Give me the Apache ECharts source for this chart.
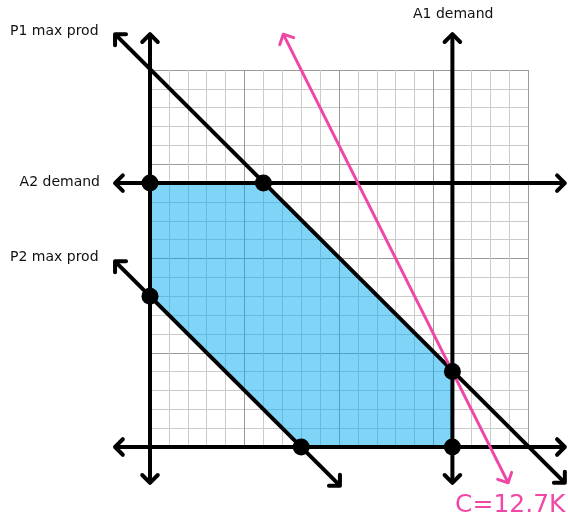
<!DOCTYPE html>
<html>
<head>
<meta charset="utf-8">
<script src="https://cdn.jsdelivr.net/npm/echarts@6/dist/echarts.min.js"></script>
<style>
  html, body { margin: 0; padding: 0; background: #fff; }
  #chart { width: 568px; height: 520px; }
</style>
</head>
<body>
<div id="chart"></div>
<script>
// constraint lines, [u1, v1, u2, v2] in grid units
var yAxisLine = [0, 21.9, 0, -1.9];
var xAxisLine = [-1.85, 0, 21.95, 0];
var p1Line = [-1.85, 21.9, 21.95, -1.9];
var p2Line = [-1.85, 9.85, 10.05, -2.05];
var a2Line = [-1.85, 14, 21.95, 14];
var a1Line = [16, 21.9, 16, -1.9];
var costLine = [7.05, 21.9, 18.95, -1.9];

// feasible region corners
var region = [[0, 14], [6, 14], [16, 4], [16, 0], [8, 0], [0, 8]];
// corner points
var corners = [[0, 14], [6, 14], [0, 8], [8, 0], [16, 0], [16, 4]];

var lineLabels = ['P1 max prod', 'A2 demand', 'P2 max prod', 'A1 demand'];
var costLabel = 'C=12.7K';

var chart = echarts.init(document.getElementById('chart'));

var drawArrowLine = function(params, api) {
    var a = api.coord([api.value(0), api.value(1)]);
    var b = api.coord([api.value(2), api.value(3)]);
    var color = api.value(4) === 1 ? '#f046a6' : '#000';
    var width = api.value(4) === 1 ? 3 : 4;
    var len = 11;
    var chevron = function(tip, from) {
        var dx = tip[0] - from[0], dy = tip[1] - from[1];
        var d = Math.sqrt(dx * dx + dy * dy);
        dx /= d; dy /= d;
        var c = Math.SQRT1_2;
        var l1 = [tip[0] - len * (dx * c - dy * c), tip[1] - len * (dy * c + dx * c)];
        var l2 = [tip[0] - len * (dx * c + dy * c), tip[1] - len * (dy * c - dx * c)];
        return {
            type: 'polyline',
            shape: { points: [l1, tip, l2] },
            style: { stroke: color, lineWidth: width, fill: null, lineCap: 'round', lineJoin: 'round' }
        };
    };
    return {
        type: 'group',
        children: [
            {
                type: 'line',
                shape: { x1: a[0], y1: a[1], x2: b[0], y2: b[1] },
                style: { stroke: color, lineWidth: width }
            },
            chevron(a, b),
            chevron(b, a)
        ]
    };
};

var lineData = [
    yAxisLine.concat([0]),
    xAxisLine.concat([0]),
    p1Line.concat([0]),
    p2Line.concat([0]),
    a2Line.concat([0]),
    a1Line.concat([0]),
    costLine.concat([1])
];

var gridColors = ['#9a9a9a', '#cbcbcb', '#cbcbcb', '#cbcbcb', '#cbcbcb'];

var option = {
    backgroundColor: '#fff',
    animation: false,
    grid: { left: 150, right: 40, top: 70, bottom: 73 },
    xAxis: {
        type: 'value', min: 0, max: 20, interval: 1,
        axisLine: { show: false }, axisTick: { show: false }, axisLabel: { show: false },
        splitLine: { show: true, showMinLine: true, showMaxLine: true, lineStyle: { color: gridColors, width: 1 } }
    },
    yAxis: {
        type: 'value', min: 0, max: 20, interval: 1,
        axisLine: { show: false }, axisTick: { show: false }, axisLabel: { show: false },
        splitLine: { show: true, showMinLine: true, showMaxLine: true, lineStyle: { color: gridColors, width: 1 } }
    },
    series: [{
        type: 'custom',
        z: 2,
        renderItem: function(params, api) {
            var pts = region.map(function(p) { return api.coord(p); });
            return {
                type: 'polygon',
                shape: { points: pts },
                style: { fill: 'rgba(0,170,240,0.5)', stroke: null }
            };
        },
        data: [0]
    }, {
        type: 'custom',
        z: 3,
        clip: false,
        renderItem: drawArrowLine,
        encode: { x: [0, 2], y: [1, 3] },
        data: lineData
    }, {
        type: 'scatter',
        z: 4,
        symbolSize: 17,
        itemStyle: { color: '#000', opacity: 1 },
        data: corners
    }],
    graphic: [
        { type: 'text', left: 10, top: 24, style: { text: lineLabels[0], font: '14px "DejaVu Sans"', fill: '#111' } },
        { type: 'text', right: 468, top: 175, style: { text: lineLabels[1], font: '14px "DejaVu Sans"', fill: '#111', textAlign: 'right' } },
        { type: 'text', left: 10, top: 250, style: { text: lineLabels[2], font: '14px "DejaVu Sans"', fill: '#111' } },
        { type: 'text', left: 413, top: 7, style: { text: lineLabels[3], font: '14px "DejaVu Sans"', fill: '#111' } },
        { type: 'text', left: 455, top: 493, style: { text: costLabel, font: '25px "DejaVu Sans"', fill: '#f046a6' } }
    ]
};
chart.setOption(option);
</script>
</body>
</html>
